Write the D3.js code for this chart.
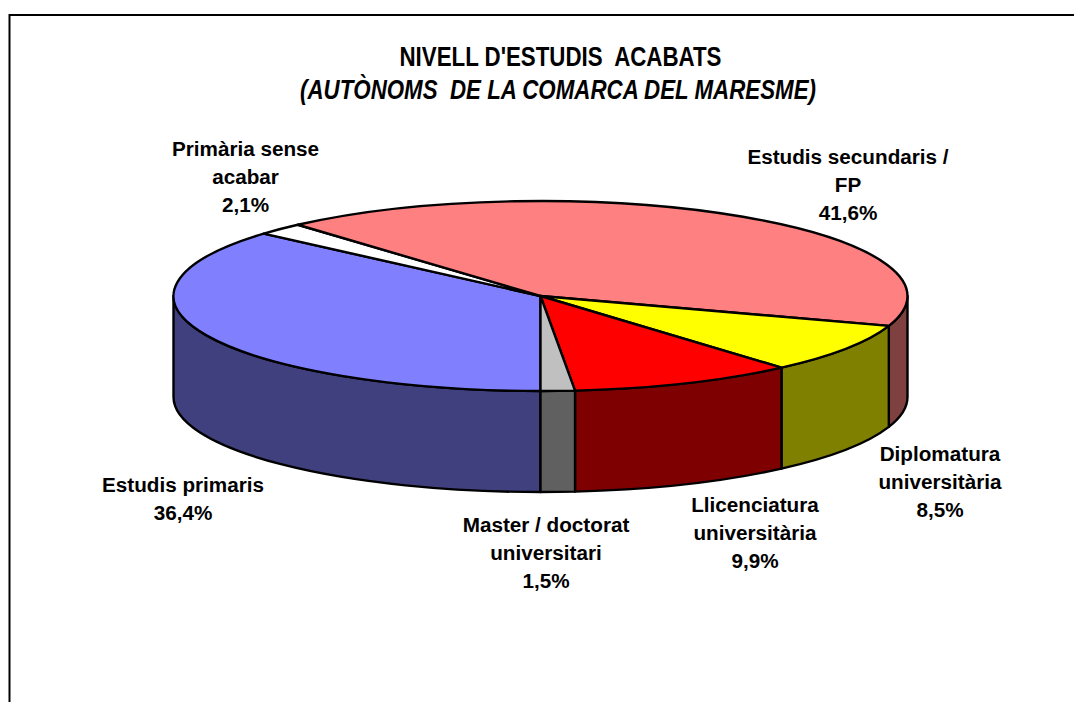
<!DOCTYPE html>
<html><head><meta charset="utf-8">
<script src="https://cdn.jsdelivr.net/npm/d3@7"></script>
<style>html,body{margin:0;padding:0;background:#fff}svg{display:block}text{font-family:"Liberation Sans",Arial,sans-serif;font-weight:bold;fill:#000}</style>
</head><body><div id="c"></div>
<script>
const categories=["Estudis primaris","Primària sense acabar","Estudis secundaris / FP","Diplomatura universitària","Llicenciatura universitària","Master / doctorat universitari"];
const values=[36.4,2.1,41.6,8.5,9.9,1.5];
const topColors=["#8080ff","#ffffff","#ff8080","#ffff00","#ff0000","#c0c0c0"];
const sideColors=["#40407f","#7f7f7f","#7f4040","#7f7f00","#7f0000","#606060"];
const labelLines=[["Estudis primaris","36,4%"],["Primària sense","acabar","2,1%"],["Estudis secundaris /","FP","41,6%"],["Diplomatura","universitària","8,5%"],["Llicenciatura","universitària","9,9%"],["Master / doctorat","universitari","1,5%"]];
const labelAnchors=[[183,492],[245.5,156],[848,164],[940,461],[755,512],[546,532]];
const titleLines=["NIVELL D'ESTUDIS  ACABATS","(AUTÒNOMS  DE LA COMARCA DEL MARESME)"];

const W=1074,H=702,cx=540.5,cy=296,rx=367,ry=95,depth=101;
const svg=d3.select("#c").append("svg").attr("width",W).attr("height",H);
svg.append("path").attr("d",`M9.5,${H}V15H${W}`).attr("fill","none").attr("stroke","#000").attr("stroke-width",2);

const px=a=>cx+rx*Math.sin(a), py=(a,d=0)=>cy-ry*Math.cos(a)+d;
const arcs=d3.pie().value(d=>d).sort(null).startAngle(Math.PI).endAngle(3*Math.PI)(values);
const ln={stroke:"#000","stroke-width":2.4,"stroke-linejoin":"round"};
const style=(s)=>{Object.entries(ln).forEach(([k,v])=>s.attr(k,v));return s;};

const L=Math.PI/2,R=3*Math.PI/2;
function side(a0,a1){
  const segs=[];
  [[a0,a1],[a0-2*Math.PI,a1-2*Math.PI]].forEach(([s,e])=>{
    const p=Math.max(s,L),q=Math.min(e,R);
    if(q>p)segs.push([p,q]);
  });
  return segs;
}
const walls=[];
arcs.forEach((d,i)=>side(d.startAngle,d.endAngle).forEach(([p,q])=>walls.push({p,q,i})));
svg.append("g").selectAll("path").data(walls).join("path")
  .attr("d",w=>`M${px(w.p)},${py(w.p)}A${rx},${ry} 0 0 1 ${px(w.q)},${py(w.q)}`+
      `L${px(w.q)},${py(w.q,depth)}A${rx},${ry} 0 0 0 ${px(w.p)},${py(w.p,depth)}Z`)
  .attr("fill",w=>sideColors[w.i]).call(style);

svg.append("g").selectAll("path").data(arcs).join("path")
  .attr("d",d=>{
    const large=d.endAngle-d.startAngle>Math.PI?1:0;
    return `M${cx},${cy}L${px(d.startAngle)},${py(d.startAngle)}A${rx},${ry} 0 ${large} 1 ${px(d.endAngle)},${py(d.endAngle)}Z`;
  })
  .attr("fill",(d,i)=>topColors[i]).call(style);

const lab=svg.append("g").attr("font-size",20.7).attr("text-anchor","middle");
labelLines.forEach((lines,i)=>{
  lines.forEach((t,j)=>lab.append("text").attr("x",labelAnchors[i][0]).attr("y",labelAnchors[i][1]+j*28).text(t));
});
const t=svg.append("g").attr("text-anchor","middle").attr("font-size",27);
t.append("text").attr("x",560.5).attr("y",66).style("white-space","pre").attr("textLength",322).attr("lengthAdjust","spacingAndGlyphs").text(titleLines[0]);
t.append("text").attr("x",558).attr("y",99).style("white-space","pre").style("font-style","italic").attr("textLength",516).attr("lengthAdjust","spacingAndGlyphs").text(titleLines[1]);
</script></body></html>
